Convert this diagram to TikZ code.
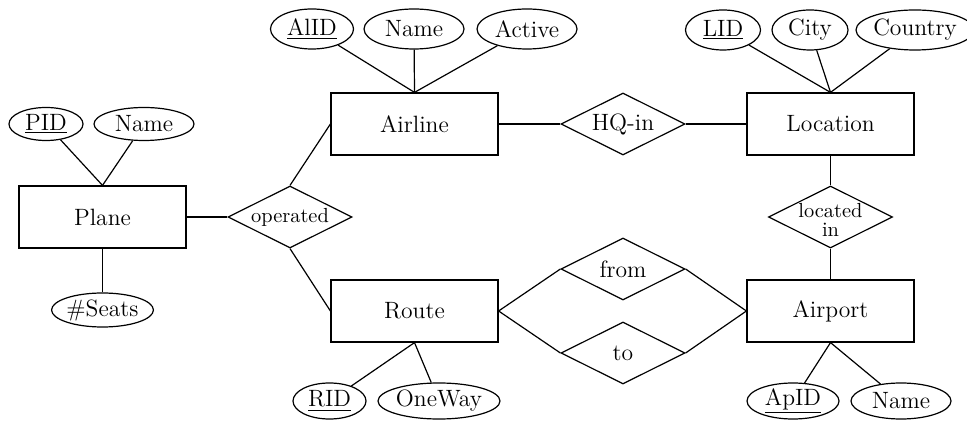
\documentclass[tikz,border=0pt]{standalone}
\usetikzlibrary{shapes.geometric}
\newcommand\mainfnt{\fontsize{11.8}{14}\selectfont}
\newcommand\smallfnt{\fontsize{10.2}{9.4}\selectfont}
\tikzset{
  every node/.style={font=\mainfnt},
  entity/.style={draw, rectangle, inner sep=0pt, minimum width=83.5pt, minimum height=31pt},
  rel/.style={draw, diamond, aspect=2, inner sep=0pt, minimum width=62pt, minimum height=31pt},
  attr/.style 2 args={draw, ellipse, inner sep=0pt, minimum width={#1*0.5pt}, minimum height={#2*0.5pt}},
  conn/.style={line width=0.6pt},
}
\begin{document}
\begin{tikzpicture}[x=0.5pt, y=-0.5pt, line width=0.6pt]
\useasboundingbox (0,0) rectangle (967,421);
% entities
\node[entity] (plane) at (102.5,217) {Plane};
\node[entity] (airline) at (414.5,124) {Airline};
\node[entity] (location) at (830.5,124) {Location};
\node[entity] (route) at (414.5,311) {Route};
\node[entity] (airport) at (830.5,311) {Airport};
% relationships
\node[rel, font=\fontsize{10.2}{12}\selectfont] (operated) at (290,217) {operated};
\node[rel] (hq) at (623,124) {HQ-in};
\node[rel, label={[font=\smallfnt, align=center, yshift=-1.5pt]center:located\\in}] (located) at (830.5,217) {};
\node[rel] (from) at (623,269) {from};
\node[rel] (to) at (623,353) {to};
% attributes
\node[attr={74}{33}] (pid) at (46,124) {\underline{PID}};
\node[attr={100}{33}] (pname) at (144,124) {Name};
\node[attr={99}{34}] (seats) at (102.5,310) {\#Seats};
\node[attr={83}{40}] (alid) at (312,29) {\underline{AlID}};
\node[attr={100}{40}] (aname) at (414,29) {Name};
\node[attr={100}{40}] (active) at (527,29) {Active};
\node[attr={75}{40}] (lid) at (723,30) {\underline{LID}};
\node[attr={76}{40}] (city) at (810,30) {City};
\node[attr={106}{40}] (country) at (915,30) {Country};
\node[attr={73}{36}] (rid) at (329.5,401) {\underline{RID}};
\node[attr={122}{36}] (oneway) at (439,401) {OneWay};
\node[attr={92}{36}] (apid) at (793,401) {\underline{ApID}};
\node[attr={100}{36}] (apname) at (901,401) {Name};
% connectors
\draw[conn] (pid) -- (plane.north);
\draw[conn] (pname) -- (plane.north);
\draw[conn] (seats) -- (plane.south);
\draw[conn] (plane.east) -- (operated.west);
\draw[conn] (operated.north) -- (airline.west);
\draw[conn] (operated.south) -- (route.west);
\draw[conn] (alid) -- (airline.north);
\draw[conn] (aname) -- (airline.north);
\draw[conn] (active) -- (airline.north);
\draw[conn] (airline.east) -- (hq.west);
\draw[conn] (hq.east) -- (location.west);
\draw[conn] (lid) -- (location.north);
\draw[conn] (city) -- (location.north);
\draw[conn] (country) -- (location.north);
\draw[conn] (location.south) -- (located.north);
\draw[conn] (located.south) -- (airport.north);
\draw[conn] (route.east) -- (from.west);
\draw[conn] (route.east) -- (to.west);
\draw[conn] (airport.west) -- (from.east);
\draw[conn] (airport.west) -- (to.east);
\draw[conn] (rid) -- (route.south);
\draw[conn] (oneway) -- (route.south);
\draw[conn] (apid) -- (airport.south);
\draw[conn] (apname) -- (airport.south);
\end{tikzpicture}
\end{document}
